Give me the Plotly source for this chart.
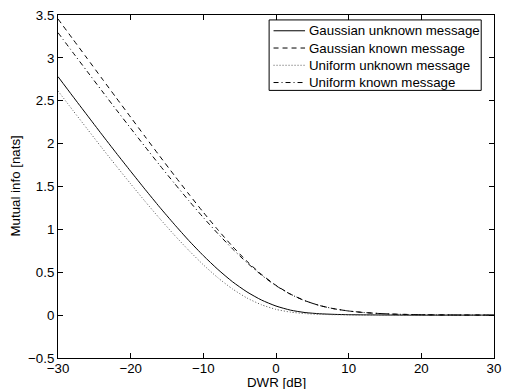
import plotly.graph_objects as go

# ---- data ----
dwr_db = [-30, -28, -26, -24, -22, -20, -18, -16, -14, -12, -10, -8, -6, -4, -2,
          0, 2, 4, 6, 8, 10, 12, 14, 16, 18, 20, 22, 24, 26, 28, 30]

gauss_unknown = [2.781, 2.556, 2.333, 2.111, 1.892, 1.677, 1.465, 1.258, 1.060, 0.870,
                 0.694, 0.533, 0.390, 0.271, 0.176, 0.106, 0.058, 0.030, 0.016, 0.009,
                 0.005, 0.003, 0.002, 0.001, 0.0, 0.0, 0.0, 0.0, 0.0, 0.0, 0.0]
gauss_known = [3.454, 3.224, 2.995, 2.765, 2.536, 2.308, 2.080, 1.854, 1.631, 1.412,
               1.199, 0.995, 0.803, 0.628, 0.475, 0.347, 0.245, 0.168, 0.112, 0.074,
               0.048, 0.031, 0.020, 0.012, 0.008, 0.005, 0.003, 0.002, 0.001, 0.001, 0.0]
unif_unknown = [2.615, 2.393, 2.174, 1.955, 1.741, 1.531, 1.325, 1.126, 0.935, 0.755,
                0.587, 0.436, 0.306, 0.200, 0.121, 0.067, 0.035, 0.018, 0.009, 0.005,
                0.003, 0.002, 0.001, 0.001, 0.0, 0.0, 0.0, 0.0, 0.0, 0.0, 0.0]
unif_known = [3.294, 3.068, 2.844, 2.620, 2.398, 2.179, 1.962, 1.748, 1.539, 1.335,
              1.138, 0.951, 0.774, 0.612, 0.467, 0.343, 0.243, 0.167, 0.112, 0.074,
              0.048, 0.031, 0.020, 0.012, 0.008, 0.005, 0.003, 0.002, 0.001, 0.001, 0.0]

series_names = ["Gaussian unknown message", "Gaussian known message",
                "Uniform unknown message", "Uniform known message"]
series_values = [gauss_unknown, gauss_known, unif_unknown, unif_known]
series_dash = ["solid", "5px,4px", "1px,2px", "5px,3px,1px,3px"]
series_color = ["black", "black", "#555555", "black"]

x_ticks = [-30, -20, -10, 0, 10, 20, 30]
y_ticks = [-0.5, 0, 0.5, 1, 1.5, 2, 2.5, 3, 3.5]

# ---- layout geometry ----
W, H = 509, 389
ML, MR, MT, MB = 58, 8, 10, 31
PW, PH = W - ML - MR, H - MT - MB
FONT = "Liberation Sans, Arial, Helvetica, sans-serif"
FS = 13.3


def px_x(px):
    return (px - ML) / PW


def px_y(py):
    return (H - MB - py) / PH


fig = go.Figure()
for name, vals, dash, col in zip(series_names, series_values, series_dash, series_color):
    fig.add_trace(go.Scatter(x=dwr_db, y=vals, mode="lines", name=name,
                             line=dict(color=col, width=1, dash=dash, shape="spline",
                                       smoothing=0.6),
                             showlegend=False, hoverinfo="skip"))

axis_common = dict(showline=True, linecolor="black", linewidth=1, mirror="ticks",
                   ticks="inside", ticklen=5, tickcolor="black", tickwidth=1,
                   showgrid=False, zeroline=False,
                   tickfont=dict(family=FONT, size=FS, color="black"))

fig.update_xaxes(range=[-30, 30], tickvals=x_ticks, ticklabelstandoff=-2, **axis_common)
fig.update_yaxes(range=[-0.5, 3.5], tickvals=y_ticks, **axis_common)

# custom legend box (MATLAB style)
shapes = [dict(type="rect", xref="paper", yref="paper",
               x0=px_x(272.5), x1=px_x(488), y0=px_y(86.5), y1=px_y(15),
               line=dict(color="black", width=1), fillcolor="white", layer="above")]
annotations = []
row_y = [26, 43.5, 61, 78.5]
for name, dash, col, ry in zip(series_names, series_dash, series_color, row_y):
    shapes.append(dict(type="line", xref="paper", yref="paper",
                       x0=px_x(277), x1=px_x(309), y0=px_y(ry), y1=px_y(ry),
                       line=dict(color=col, width=1, dash=dash), layer="above"))
    annotations.append(dict(text=name, xref="paper", yref="paper",
                            x=px_x(311), y=px_y(ry), xanchor="left", yanchor="middle",
                            showarrow=False,
                            font=dict(family=FONT, size=FS, color="black")))

annotations.append(dict(text="DWR [dB]", xref="paper", yref="paper", x=0.5, y=0,
                        xanchor="center", yanchor="middle", yshift=-24,
                        showarrow=False, borderpad=0,
                        font=dict(family=FONT, size=FS, color="black")))
annotations.append(dict(text="Mutual info [nats]", xref="paper", yref="paper", x=0,
                        y=0.5, xanchor="center", yanchor="middle", xshift=-43,
                        textangle=-90, showarrow=False,
                        font=dict(family=FONT, size=FS, color="black")))

fig.update_layout(width=W, height=H, margin=dict(l=ML, r=MR, t=MT, b=MB),
                  paper_bgcolor="white", plot_bgcolor="white",
                  shapes=shapes, annotations=annotations, showlegend=False,
                  hovermode=False,
                  font=dict(family=FONT, size=FS, color="black"))

fig.write_html("out.html",
               config={"displayModeBar": False, "staticPlot": True},
               post_script="document.body.style.margin='0px';"
                           "document.body.style.overflow='hidden';")
